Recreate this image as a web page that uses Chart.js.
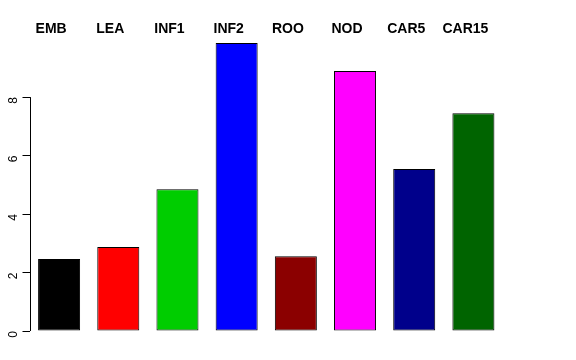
<!DOCTYPE html>
<html>
<head>
<meta charset="utf-8">
<script src="https://cdn.jsdelivr.net/npm/chart.js@4/dist/chart.umd.min.js"></script>
<style>
html,body{margin:0;padding:0;background:#fff;}
#wrap{width:576px;height:360px;position:relative;}
</style>
</head>
<body>
<div id="wrap"><canvas id="c" width="576" height="360"></canvas></div>
<script>
const categories = ['EMB', 'LEA', 'INF1', 'INF2', 'ROO', 'NOD', 'CAR5', 'CAR15'];
const values = [2.46, 2.87, 4.85, 9.85, 2.56, 8.89, 5.54, 7.45];
const barColors = ['#000000', '#FF0000', '#00CD00', '#0000FF', '#8B0000', '#FF00FF', '#00008B', '#006400'];
const yTicks = [0, 2, 4, 6, 8];

const axisLinePlugin = {
  id: 'axisLine',
  afterDraw(chart) {
    const y = chart.scales.y;
    const ctx = chart.ctx;
    const x = Math.round(y.right) + 0.5;
    ctx.save();
    ctx.strokeStyle = '#000';
    ctx.lineWidth = 1;
    ctx.beginPath();
    ctx.moveTo(x, y.getPixelForValue(yTicks[0]));
    ctx.lineTo(x, y.getPixelForValue(yTicks[yTicks.length - 1]));
    ctx.stroke();
    ctx.restore();
  }
};

new Chart(document.getElementById('c'), {
  type: 'bar',
  data: {
    labels: categories,
    datasets: [{
      data: values,
      backgroundColor: barColors,
      borderColor: '#000',
      borderWidth: 1,
      borderSkipped: false,
      categoryPercentage: 1,
      barPercentage: 0.71
    }]
  },
  options: {
    responsive: false,
    animation: false,
    devicePixelRatio: 1,
    layout: { padding: { left: 0, right: 73, top: 0, bottom: 29 } },
    plugins: { legend: { display: false }, tooltip: { enabled: false } },
    scales: {
      x: {
        position: 'top',
        grid: { display: false },
        border: { display: false },
        ticks: {
          color: '#000',
          font: { family: 'Liberation Sans, Arial, sans-serif', size: 14, weight: 'bold' },
          padding: -3,
          labelOffset: -8,
          maxRotation: 0
        },
        afterFit(s) { s.height = 43; }
      },
      y: {
        min: 0,
        max: Math.max(...values),
        grid: { display: true, drawOnChartArea: false, tickLength: 7, color: '#000', tickColor: '#000' },
        border: { display: false },
        afterBuildTicks(s) { s.ticks = yTicks.map(v => ({ value: v })); },
        ticks: {
          color: '#000',
          font: { family: 'Liberation Sans, Arial, sans-serif', size: 12 },
          minRotation: 90,
          maxRotation: 90,
          padding: 9,
          includeBounds: false
        },
        afterFit(s) { s.width = 29.5; }
      }
    }
  },
  plugins: [axisLinePlugin]
});
</script>
</body>
</html>
